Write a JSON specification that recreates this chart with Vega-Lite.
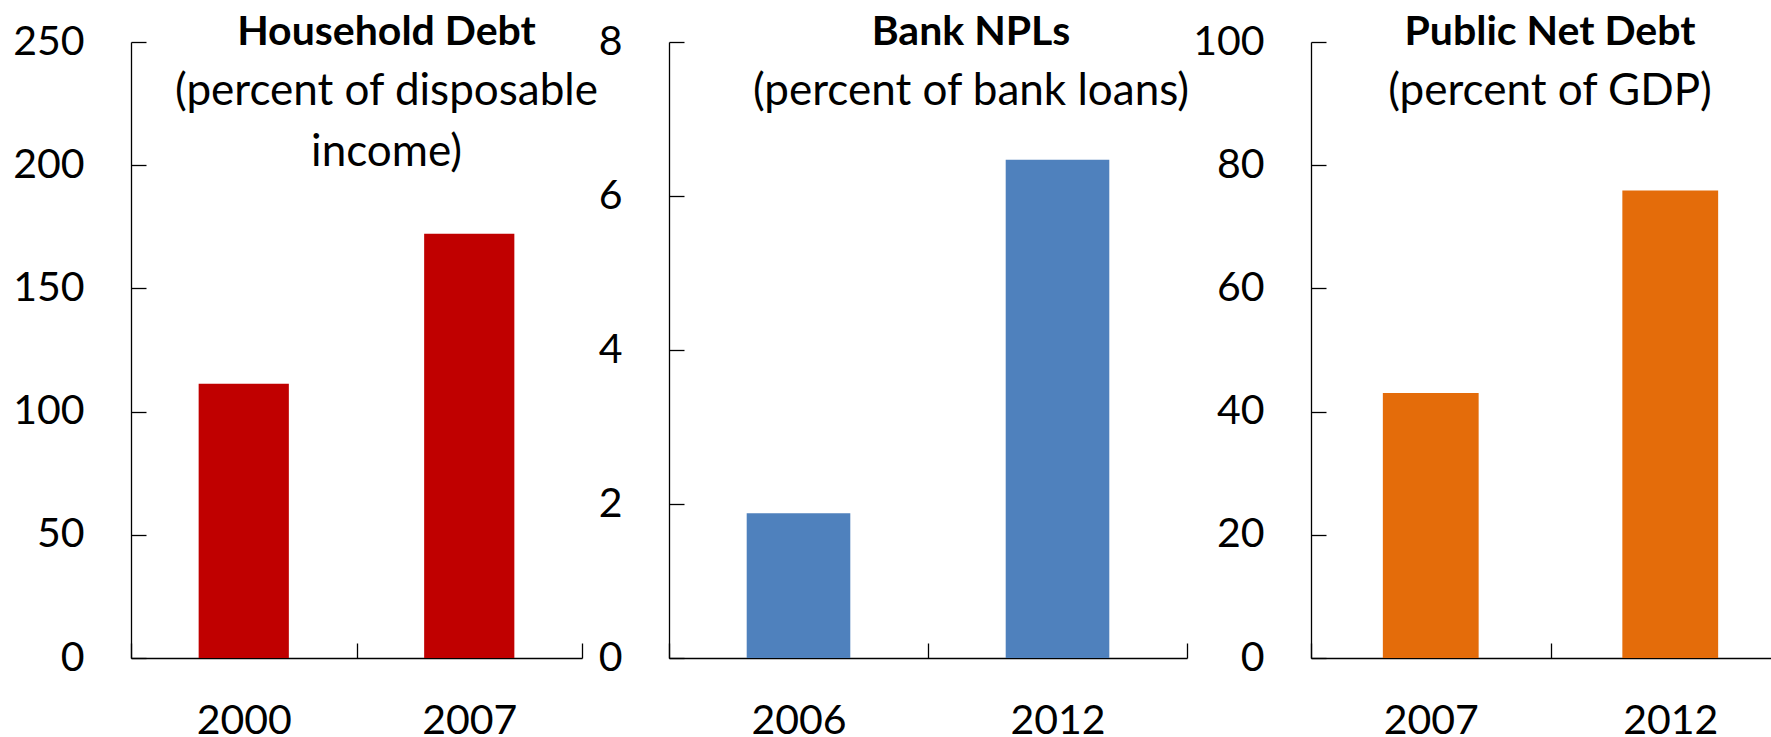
{
  "$schema": "https://vega.github.io/schema/vega-lite/v6.json",
  "autosize": {"type": "none"},
  "padding": {"left": 131, "top": 42, "right": 1640, "bottom": 695},
  "background": "white",
  "bounds": "flush",
  "spacing": 87,
  "config": {
    "view": {"stroke": null},
    "font": "Lato",
    "axis": {
      "labelFont": "Lato",
      "labelFontSize": 41,
      "labelColor": "black",
      "domainColor": "black",
      "tickColor": "black",
      "domainWidth": 1.3,
      "tickWidth": 1.3,
      "grid": false,
      "title": null,
      "tickSize": -15
    },
    "axisX": {"labelAngle": 0, "tickBand": "extent", "labelPadding": 58},
    "axisY": {"labelPadding": 62},
    "title": {
      "font": "Lato",
      "fontSize": 41,
      "fontWeight": "bold",
      "color": "black",
      "subtitleFont": "Lato",
      "subtitleFontSize": 44,
      "subtitleFontWeight": "normal",
      "subtitleColor": "black",
      "subtitleLineHeight": 61,
      "subtitlePadding": 16,
      "anchor": "middle",
      "frame": "group"
    }
  },
  "hconcat": [
    {
      "width": 451,
      "height": 616,
      "title": {"text": "Household Debt", "subtitle": ["(percent of disposable", "income)"], "dx": 30, "offset": -155},
      "data": {"values": [
        {"year": "2000", "value": 111.3},
        {"year": "2007", "value": 172.2}
      ]},
      "mark": {"type": "bar", "color": "#C00000", "width": {"band": 0.4}},
      "encoding": {
        "x": {"field": "year", "type": "ordinal", "scale": {"paddingInner": 0, "paddingOuter": 0}},
        "y": {"field": "value", "type": "quantitative", "scale": {"domain": [0, 250], "nice": false}, "axis": {"values": [0, 50, 100, 150, 200, 250]}}
      }
    },
    {
      "width": 518,
      "height": 616,
      "title": {"text": "Bank NPLs", "subtitle": ["(percent of bank loans)"], "dx": 43, "offset": -94},
      "data": {"values": [
        {"year": "2006", "value": 1.88},
        {"year": "2012", "value": 6.47}
      ]},
      "mark": {"type": "bar", "color": "#4F81BD", "width": {"band": 0.4}},
      "encoding": {
        "x": {"field": "year", "type": "ordinal", "scale": {"paddingInner": 0, "paddingOuter": 0}},
        "y": {"field": "value", "type": "quantitative", "scale": {"domain": [0, 8], "nice": false}, "axis": {"values": [0, 2, 4, 6, 8]}}
      }
    },
    {
      "width": 516,
      "height": 616,
      "title": {"text": "Public Net Debt", "subtitle": ["(percent of GDP)"], "dx": 18, "offset": -94},
      "data": {"values": [
        {"year": "2007", "value": 43.0},
        {"year": "2012", "value": 75.9}
      ]},
      "mark": {"type": "bar", "color": "#E46C0A", "width": {"band": 0.4}},
      "encoding": {
        "x": {"field": "year", "type": "ordinal", "scale": {"paddingInner": 0, "paddingOuter": 0, "range": [37, 516]}},
        "y": {"field": "value", "type": "quantitative", "scale": {"domain": [0, 100], "nice": false}, "axis": {"values": [0, 20, 40, 60, 80, 100], "offset": -37}}
      }
    }
  ]
}
